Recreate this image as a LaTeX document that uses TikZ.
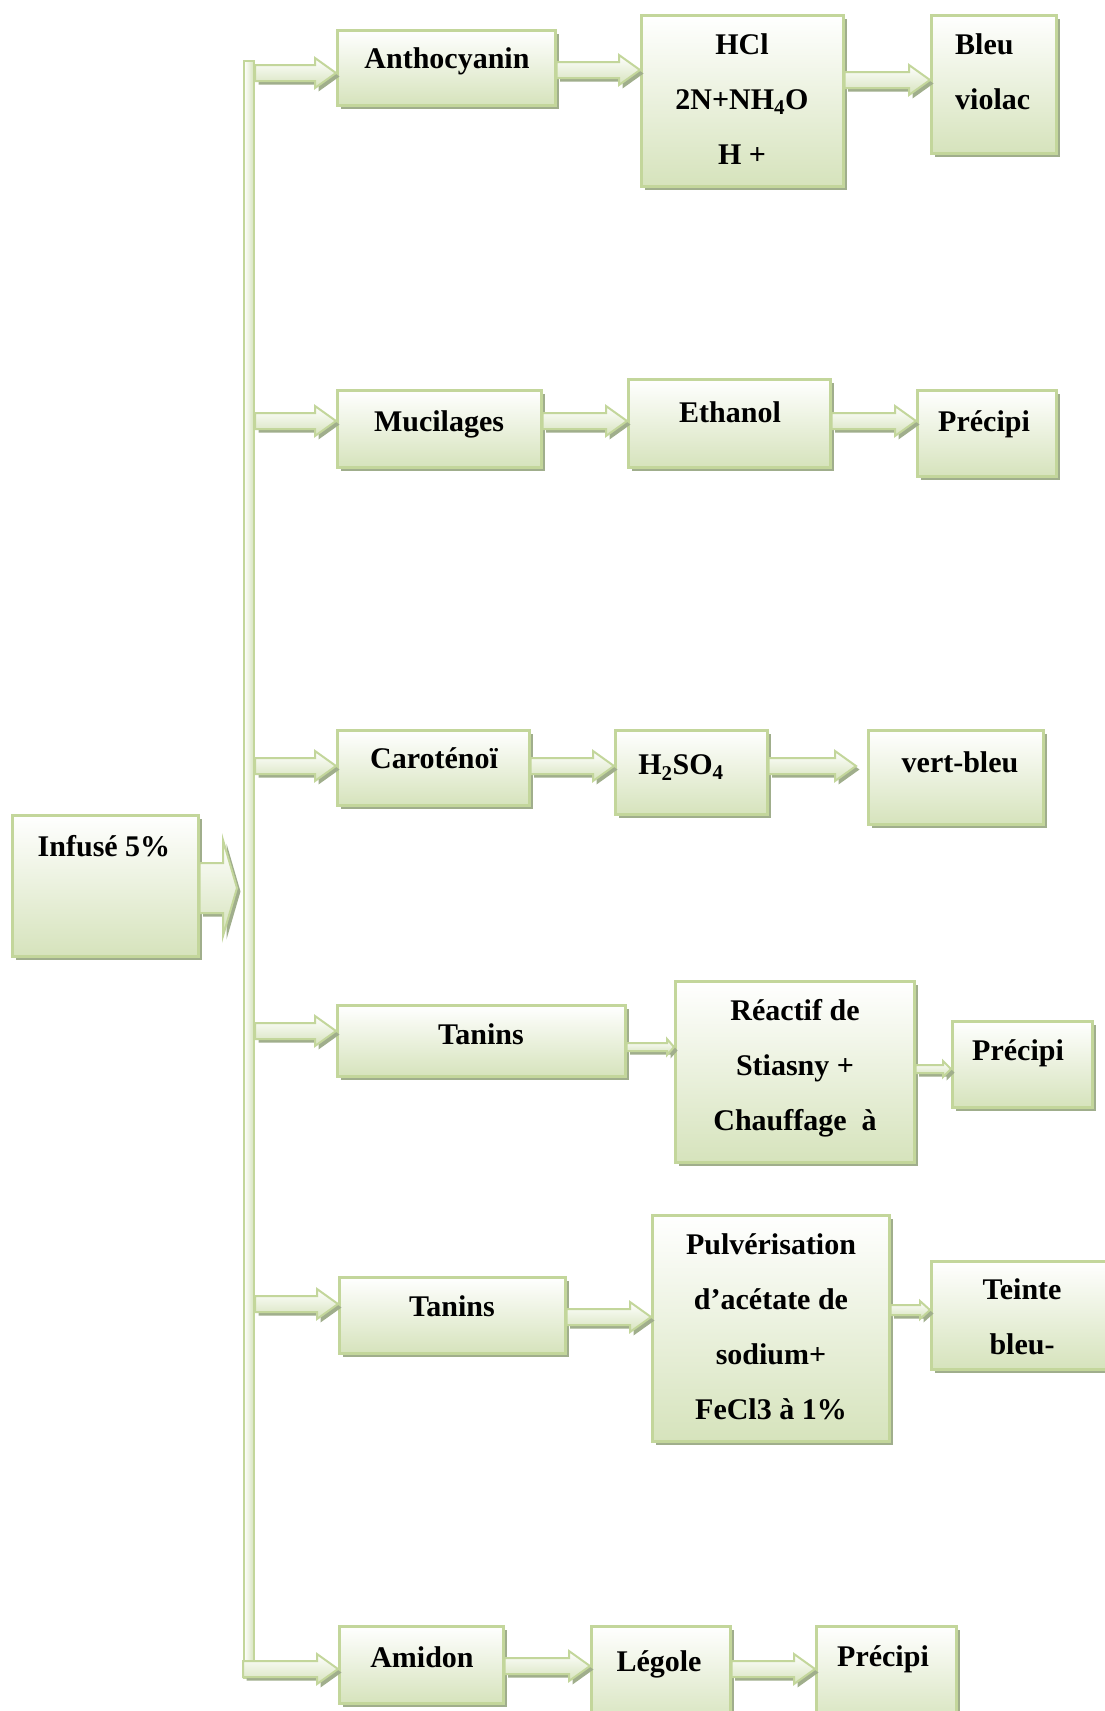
\documentclass[tikz,border=0pt]{standalone}
\usepackage{fontspec}
\setmainfont{Liberation Serif}
\usetikzlibrary{shadows,calc}
\definecolor{bord}{RGB}{195,214,155}
\definecolor{fillg}{RGB}{214,227,188}
\definecolor{shc}{RGB}{160,174,140}
\tikzset{
  myshadow/.style={drop shadow={shadow xshift=3.5pt, shadow yshift=-3.5pt, fill=shc, opacity=1}},
  box/.style={draw=bord, line width=2.5pt, top color=white, bottom color=fillg, myshadow, inner sep=0pt},
  arrsty/.style={draw=bord, line width=2pt, top color=white, bottom color=fillg, myshadow, line join=miter},
  lbl/.style={font=\fontsize{30}{55}\selectfont\bfseries, align=center, inner sep=0pt, anchor=north},
  barsty/.style={draw=bord, line width=2pt, left color=white, right color=fillg, inner sep=0pt}
}
\newcommand\mkbox[5]{\node[box, anchor=north west, minimum width={(#4-#2)*1pt}, minimum height={(#5-#3)*1pt}] (#1) at (#2,#3) {};}
\newcommand\mktxt[4]{\node[lbl] (#1) at (#2,{#3-38}) {\strut #4};}
\newcommand\mkltxt[4]{\node[lbl, anchor=north west, align=left] (#1) at (#2,{#3-38}) {\strut #4};}
% block arrow: from, to, shaft half, head half, head length, gap before target
\newcommand\blk[6]{\path[arrsty] let \p1=(#1), \p2=(#2) in
  (\x1,\y1+#3) -- (\x2-#6-#5,\y1+#3) -- (\x2-#6-#5,\y1+#4) -- (\x2-#6,\y1) --
  (\x2-#6-#5,\y1-#4) -- (\x2-#6-#5,\y1-#3) -- (\x1,\y1-#3) -- cycle;}
\begin{document}
\begin{tikzpicture}[x=1pt,y=-1pt]
\useasboundingbox (0,0) rectangle (1105,1711);
\clip (0,0) rectangle (1105,1711);

% boxes
\mkbox{inf}{11}{814}{197}{955}
\mkbox{antho}{336}{29}{554}{104}
\mkbox{hcl}{640}{14}{842}{185}
\mkbox{bleu}{930}{14}{1055}{152}
\mkbox{muc}{336}{389}{540}{466}
\mkbox{eth}{627}{378}{829}{466}
\mkbox{preA}{916}{389}{1055}{475}
\mkbox{car}{336}{729}{528}{804}
\mkbox{hso}{614}{729}{766}{813}
\mkbox{vert}{867}{729}{1042}{823}
\mkbox{tanA}{336}{1004}{624}{1075}
\mkbox{rea}{674}{980}{913}{1161}
\mkbox{preB}{951}{1020}{1091}{1106}
\mkbox{tanB}{338}{1276}{564}{1352}
\mkbox{pul}{651}{1214}{888}{1440}
\mkbox{tei}{930}{1260}{1110}{1368}
\mkbox{ami}{338}{1625}{502}{1702}
\mkbox{leg}{590}{1625}{729}{1725}
\mkbox{preC}{815}{1625}{955}{1725}

% vertical bar
\node[barsty, anchor=north west, minimum width=10pt, minimum height=1617pt] (bar) at (243,60) {};

% arrows
\blk{inf.east |- 0,888}{bar.west |- 0,888}{25pt}{48pt}{14pt}{6pt}
\blk{bar.east |- 0,73}{antho.west |- 0,73}{8pt}{15pt}{21pt}{0pt}
\blk{bar.east |- 0,421}{muc.west |- 0,421}{8pt}{15pt}{21pt}{0pt}
\blk{bar.east |- 0,766}{car.west |- 0,766}{8pt}{15pt}{21pt}{0pt}
\blk{bar.east |- 0,1031}{tanA.west |- 0,1031}{8pt}{15pt}{21pt}{0pt}
\blk{bar.east |- 0,1304}{tanB.west |- 0,1304}{8pt}{15pt}{21pt}{0pt}
\blk{bar.south west |- 0,1669}{ami.west |- 0,1669}{8pt}{15pt}{21pt}{0pt}

\blk{antho.east |- 0,70}{hcl.west |- 0,70}{8pt}{15pt}{21pt}{0pt}
\blk{hcl.east |- 0,80}{bleu.west |- 0,80}{8pt}{15pt}{21pt}{0pt}
\blk{muc.east |- 0,421}{eth.west |- 0,421}{8pt}{15pt}{21pt}{0pt}
\blk{eth.east |- 0,421}{preA.west |- 0,421}{8pt}{15pt}{21pt}{0pt}
\blk{car.east |- 0,766}{hso.west |- 0,766}{8pt}{15pt}{21pt}{0pt}
\blk{hso.east |- 0,766}{vert.west |- 0,766}{8pt}{15pt}{21pt}{11pt}
\blk{tanA.east |- 0,1047}{rea.west |- 0,1047}{4pt}{8pt}{7pt}{0pt}
\blk{rea.east |- 0,1069}{preB.west |- 0,1069}{4pt}{8pt}{8pt}{0pt}
\blk{tanB.east |- 0,1317}{pul.west |- 0,1317}{8pt}{15pt}{21pt}{0pt}
\blk{pul.east |- 0,1310}{tei.west |- 0,1310}{5pt}{9pt}{10pt}{0pt}
\blk{ami.east |- 0,1666}{leg.west |- 0,1666}{8pt}{15pt}{21pt}{0pt}
\blk{leg.east |- 0,1669}{preC.west |- 0,1669}{8pt}{15pt}{21pt}{0pt}

% texts
\mktxt{infT}{104}{856}{Infusé 5\%}
\mktxt{anthoT}{447}{68}{Anthocyanin}
\mktxt{hclT}{742}{54}{HCl\\2N+NH\textsubscript{4}O\\H +}
\mkltxt{bleuT}{955}{54}{Bleu\\violac}
\mktxt{mucT}{439}{431}{Mucilages}
\mktxt{ethT}{730}{422}{Ethanol}
\mkltxt{preAT}{938}{431}{Précipi}
\mktxt{carT}{434}{768}{Caroténoï}
\mktxt{hsoT}{681}{774}{H\textsubscript{2}SO\textsubscript{4}}
\mktxt{vertT}{960}{772}{vert-bleu}
\mktxt{tanAT}{481}{1044}{Tanins}
\mktxt{reaT}{795}{1020}{Réactif de\\Stiasny +\\Chauffage\ \ à}
\mkltxt{preBT}{972}{1060}{Précipi}
\mktxt{tanBT}{452}{1316}{Tanins}
\mktxt{pulT}{771}{1254}{Pulvérisation\\d’acétate de\\sodium+\\FeCl3 à 1\%}
\mktxt{teiT}{1022}{1299}{Teinte\\bleu-}
\mktxt{amiT}{422}{1667}{Amidon}
\mktxt{legT}{659}{1671}{Légole}
\mkltxt{preCT}{837}{1666}{Précipi}
\end{tikzpicture}
\end{document}
